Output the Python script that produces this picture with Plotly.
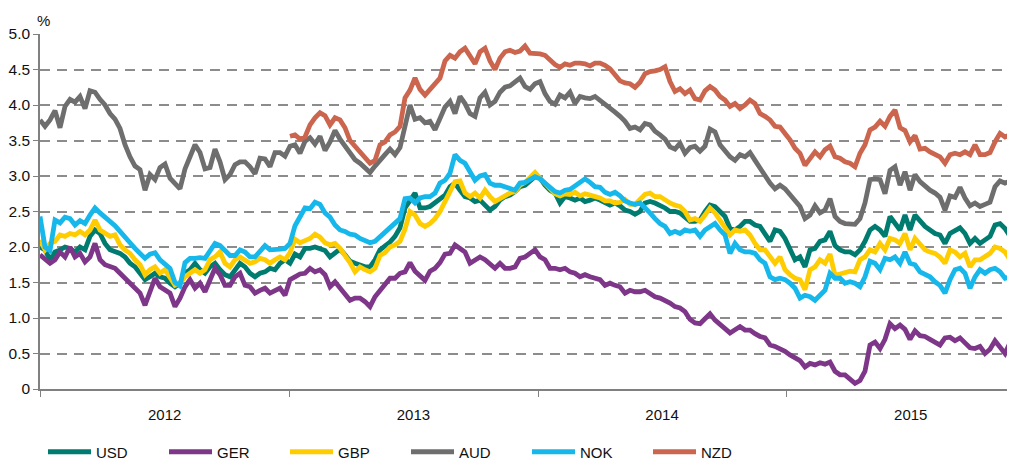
import pandas as pd
import plotly.graph_objects as go

# weekly-ish sampling dates spanning the chart (Jan 2012 -> early Dec 2015)
dates = pd.date_range("2012-01-01", "2015-12-02", periods=196)

usd = [2.00,1.96,1.82,1.93,1.96,2.00,1.98,1.93,2.00,1.96,2.15,2.24,2.19,2.05,1.96,1.93,1.91,1.86,1.77,1.72,1.63,1.54,1.58,1.63,1.58,1.56,1.49,1.44,1.49,1.63,1.68,1.77,1.68,1.63,1.72,1.77,1.68,1.61,1.58,1.68,1.77,1.72,
       1.63,1.58,1.63,1.65,1.70,1.68,1.77,1.82,1.77,1.90,1.86,1.98,1.98,2.00,1.98,1.95,1.86,1.91,1.97,1.89,1.80,1.77,1.74,1.72,1.72,1.82,1.96,2.01,2.07,2.15,2.27,2.55,2.66,2.76,2.55,2.55,2.57,2.62,2.69,2.73,
       2.85,2.90,2.80,2.71,2.69,2.64,2.66,2.59,2.52,2.57,2.66,2.71,2.73,2.78,2.85,2.87,2.92,2.99,2.97,2.87,2.80,2.76,2.62,2.71,2.69,2.66,2.69,2.64,2.66,2.69,2.66,2.62,2.59,2.62,2.58,2.52,2.50,2.46,2.50,2.62,
       2.64,2.62,2.59,2.55,2.50,2.50,2.48,2.43,2.36,2.36,2.38,2.50,2.59,2.57,2.50,2.43,2.26,2.24,2.29,2.36,2.36,2.31,2.29,2.19,2.08,2.24,2.22,2.12,1.96,1.82,1.86,1.72,1.96,1.98,2.08,2.10,2.22,2.02,1.96,1.93,
       1.93,1.89,1.96,2.08,2.24,2.29,2.24,2.15,2.43,2.33,2.24,2.45,2.24,2.45,2.36,2.29,2.24,2.19,2.17,2.05,2.19,2.24,2.27,2.19,2.05,2.12,2.05,2.10,2.15,2.31,2.33,2.26,2.15,2.33]

ger = [1.89,1.84,1.77,1.82,1.93,1.86,2.00,1.86,1.91,1.79,1.86,2.05,1.82,1.75,1.72,1.70,1.63,1.56,1.51,1.42,1.35,1.18,1.37,1.56,1.44,1.39,1.35,1.16,1.28,1.44,1.54,1.42,1.49,1.37,1.54,1.70,1.61,1.46,1.46,1.58,1.63,1.46,
       1.44,1.35,1.39,1.42,1.35,1.39,1.42,1.32,1.54,1.58,1.62,1.63,1.70,1.65,1.68,1.61,1.44,1.51,1.42,1.35,1.25,1.28,1.28,1.23,1.16,1.30,1.39,1.49,1.56,1.56,1.63,1.65,1.78,1.66,1.60,1.53,1.66,1.70,1.78,1.90,
       1.91,2.03,1.98,1.93,1.77,1.82,1.86,1.82,1.75,1.70,1.77,1.70,1.70,1.72,1.84,1.86,1.91,1.96,1.86,1.82,1.70,1.70,1.68,1.70,1.65,1.63,1.58,1.61,1.58,1.56,1.54,1.46,1.49,1.46,1.44,1.35,1.39,1.37,1.37,1.39,
       1.35,1.30,1.28,1.25,1.21,1.16,1.14,1.09,0.98,0.93,0.92,0.99,1.06,0.97,0.92,0.85,0.79,0.84,0.88,0.83,0.83,0.78,0.74,0.72,0.62,0.60,0.57,0.53,0.48,0.43,0.40,0.31,0.36,0.34,0.37,0.35,0.38,0.25,0.20,0.20,
       0.15,0.08,0.12,0.25,0.62,0.66,0.57,0.70,0.92,0.85,0.90,0.84,0.70,0.82,0.75,0.74,0.70,0.66,0.62,0.72,0.73,0.68,0.72,0.65,0.58,0.57,0.60,0.50,0.56,0.68,0.58,0.50,0.65,0.60]

gbp = [2.10,1.96,2.05,2.08,2.17,2.15,2.19,2.17,2.22,2.17,2.24,2.38,2.24,2.19,2.15,2.17,2.03,1.96,1.91,1.82,1.75,1.61,1.68,1.72,1.63,1.68,1.58,1.46,1.49,1.58,1.63,1.68,1.63,1.68,1.82,1.86,1.93,1.77,1.72,1.82,1.86,1.82,
       1.77,1.79,1.84,1.82,1.77,1.82,1.86,1.82,1.92,2.11,2.06,2.09,2.12,2.18,2.14,2.06,2.03,2.05,1.98,1.88,1.78,1.65,1.72,1.68,1.65,1.70,1.88,1.92,2.00,2.03,2.08,2.25,2.50,2.45,2.33,2.29,2.33,2.40,2.50,2.64,
       2.80,2.92,2.93,2.76,2.71,2.76,2.69,2.80,2.71,2.64,2.68,2.73,2.76,2.78,2.87,2.91,2.98,3.05,2.97,2.90,2.83,2.75,2.72,2.75,2.74,2.77,2.72,2.75,2.73,2.71,2.69,2.65,2.65,2.62,2.63,2.67,2.60,2.60,2.68,2.74,
       2.76,2.71,2.71,2.66,2.62,2.59,2.57,2.50,2.38,2.40,2.36,2.45,2.55,2.48,2.38,2.29,2.17,2.24,2.22,2.24,2.17,2.05,1.96,1.96,1.86,1.77,1.86,1.68,1.61,1.56,1.54,1.40,1.68,1.72,1.82,1.77,1.90,1.60,1.62,1.64,
       1.66,1.65,1.82,1.86,1.96,1.93,2.05,1.96,2.12,2.10,2.05,2.19,1.96,2.12,2.03,1.96,1.93,1.91,1.86,1.77,1.96,1.93,1.86,1.91,1.72,1.82,1.82,1.86,1.91,2.00,1.98,1.93,1.82,1.90]

aud = [3.79,3.70,3.79,3.92,3.68,3.98,4.08,4.04,4.12,3.95,4.20,4.18,4.08,4.00,3.88,3.80,3.67,3.44,3.27,3.14,3.09,2.80,3.02,2.95,3.12,3.17,2.97,2.90,2.82,3.10,3.26,3.44,3.33,3.10,3.12,3.38,3.20,2.95,3.02,3.16,3.20,3.20,
       3.13,3.03,3.25,3.24,3.13,3.33,3.33,3.28,3.42,3.44,3.32,3.49,3.54,3.45,3.56,3.36,3.48,3.64,3.52,3.43,3.33,3.23,3.18,3.11,3.05,3.14,3.23,3.30,3.38,3.30,3.40,3.70,4.00,3.80,3.82,3.75,3.77,3.65,3.82,3.97,
       4.05,3.88,4.12,4.02,3.88,3.84,4.10,4.18,4.00,4.05,4.18,4.25,4.27,4.33,4.38,4.26,4.22,4.30,4.33,4.16,4.05,4.01,4.14,4.10,4.18,4.02,4.12,4.10,4.09,4.12,4.07,4.00,3.95,3.90,3.84,3.77,3.67,3.69,3.65,3.74,
       3.72,3.63,3.58,3.52,3.41,3.38,3.46,3.32,3.40,3.42,3.35,3.42,3.66,3.62,3.44,3.35,3.27,3.22,3.30,3.27,3.33,3.22,3.11,3.03,2.90,2.82,2.87,2.82,2.73,2.64,2.57,2.40,2.45,2.58,2.48,2.52,2.68,2.43,2.36,2.33,
       2.33,2.32,2.40,2.62,2.95,2.96,2.95,2.75,3.08,3.13,2.87,3.06,2.80,3.02,2.92,2.85,2.80,2.76,2.70,2.52,2.72,2.70,2.84,2.69,2.58,2.62,2.57,2.60,2.63,2.85,2.93,2.90,2.93,2.82]

nok = [2.43,2.00,1.95,2.38,2.34,2.42,2.40,2.31,2.37,2.33,2.45,2.55,2.48,2.42,2.38,2.30,2.22,2.15,2.06,1.98,1.92,1.84,1.90,1.92,1.82,1.76,1.70,1.50,1.45,1.78,1.84,1.84,1.85,1.84,1.95,2.05,2.02,1.94,1.88,1.88,1.96,1.93,
       1.86,1.86,1.93,2.02,1.96,1.96,1.97,1.98,2.05,2.30,2.44,2.55,2.54,2.63,2.60,2.48,2.42,2.31,2.24,2.22,2.18,2.17,2.12,2.09,2.06,2.08,2.14,2.21,2.28,2.34,2.40,2.68,2.69,2.62,2.69,2.71,2.71,2.76,2.90,2.94,
       3.04,3.30,3.22,3.18,3.05,2.94,3.00,3.02,2.90,2.87,2.87,2.85,2.82,2.80,2.90,2.91,2.95,2.99,2.96,2.90,2.84,2.78,2.76,2.80,2.81,2.86,2.93,2.96,2.91,2.85,2.84,2.77,2.74,2.77,2.72,2.65,2.62,2.60,2.62,2.56,
       2.48,2.40,2.33,2.29,2.19,2.22,2.19,2.24,2.22,2.24,2.15,2.24,2.29,2.33,2.24,2.17,1.91,2.05,1.96,1.93,1.93,1.91,1.82,1.77,1.58,1.54,1.56,1.54,1.49,1.42,1.28,1.32,1.30,1.25,1.32,1.39,1.63,1.56,1.56,1.49,
       1.51,1.49,1.44,1.58,1.80,1.77,1.68,1.84,1.82,1.86,1.77,1.93,1.77,1.75,1.65,1.61,1.58,1.51,1.46,1.35,1.54,1.68,1.70,1.63,1.42,1.58,1.68,1.63,1.68,1.70,1.65,1.56,1.58,1.62]

# NZD series starts at the beginning of 2013
nzd = [3.56,3.58,3.52,3.55,3.72,3.82,3.89,3.85,3.72,3.82,3.79,3.68,3.50,3.42,3.34,3.25,3.18,3.22,3.44,3.48,3.58,3.62,3.70,4.10,4.21,4.38,4.22,4.14,4.22,4.28,4.38,4.62,
       4.70,4.66,4.75,4.80,4.68,4.58,4.75,4.80,4.62,4.50,4.66,4.75,4.77,4.74,4.76,4.83,4.73,4.73,4.72,4.70,4.63,4.57,4.53,4.58,4.56,4.59,4.59,4.58,4.55,4.59,4.59,4.56,4.51,4.43,4.34,4.31,4.30,4.25,4.32,4.44,
       4.47,4.48,4.50,4.54,4.33,4.19,4.23,4.16,4.21,4.09,4.07,4.20,4.26,4.21,4.12,4.07,3.98,4.02,3.95,4.00,4.07,4.02,3.88,3.84,3.79,3.70,3.69,3.60,3.51,3.39,3.32,3.15,3.25,3.34,3.27,3.37,3.42,3.27,3.25,3.20,
       3.18,3.13,3.32,3.44,3.65,3.69,3.77,3.70,3.84,3.93,3.68,3.64,3.48,3.57,3.38,3.39,3.34,3.30,3.27,3.18,3.30,3.32,3.30,3.34,3.30,3.44,3.30,3.30,3.33,3.48,3.60,3.55,3.58,3.51]

names = ["USD", "GER", "GBP", "AUD", "NOK", "NZD"]
colors = ["#007B6F", "#7E3689", "#FFCC00", "#6E6E6E", "#16B7EA", "#CB654D"]
series = [usd, ger, gbp, aud, nok, nzd]

year_mid = ["2012-07-02", "2013-07-02", "2014-07-02", "2015-07-02"]
year_labels = ["2012", "2013", "2014", "2015"]
year_starts = ["2012-01-01", "2013-01-01", "2014-01-01", "2015-01-01"]
y_ticks = [0, 0.5, 1.0, 1.5, 2.0, 2.5, 3.0, 3.5, 4.0, 4.5, 5.0]
y_labels = ["0", "0.5", "1.0", "1.5", "2.0", "2.5", "3.0", "3.5", "4.0", "4.5", "5.0"]

FONT = "Liberation Sans, Arial, sans-serif"
TXT = "#111111"
AX = "#808080"

# the page body has an 8px default margin, so the figure is sized to fit the window
W, H = 1007, 457

fig = go.Figure()
for name, col, vals in zip(names, colors, series):
    xs = dates[len(dates) - len(vals):]
    fig.add_trace(go.Scatter(x=xs, y=vals, name=name, mode="lines",
                             line=dict(color=col, width=4.8)))

fig.update_layout(
    width=W, height=H,
    margin=dict(l=32, r=0, t=26, b=76, autoexpand=False),
    paper_bgcolor="white", plot_bgcolor="white",
    font=dict(family=FONT, size=15, color=TXT),
    showlegend=True,
    legend=dict(orientation="h", xref="container", yref="container",
                x=35 / W, y=1 - 444 / H, xanchor="left", yanchor="middle",
                entrywidth=63, entrywidthmode="pixels", itemwidth=43,
                font=dict(family=FONT, size=15, color=TXT),
                bgcolor="rgba(0,0,0,0)"),
    annotations=[dict(text="%", xref="paper", yref="paper", x=0, y=1,
                      xanchor="left", yanchor="bottom", yshift=3, xshift=-5,
                      showarrow=False,
                      font=dict(family=FONT, size=15, color=TXT))],
)

fig.update_xaxes(
    type="date", range=[dates[0], dates[-1]],
    tickmode="array", tickvals=year_mid, ticktext=year_labels,
    ticks="", ticklabelstandoff=11,
    showgrid=False, zeroline=False,
    showline=True, linecolor=AX, linewidth=1.5,
    minor=dict(tickmode="array", tickvals=year_starts, ticks="outside",
               ticklen=6, tickcolor=AX, tickwidth=1, showgrid=False),
    tickfont=dict(family=FONT, size=15, color=TXT),
)

fig.update_yaxes(
    range=[0, 5.0], tickmode="array", tickvals=y_ticks, ticktext=y_labels,
    ticks="outside", ticklen=5, tickcolor=AX, tickwidth=1,
    showline=True, linecolor=AX, linewidth=1.5,
    showgrid=True, gridcolor="#8c8c8c", gridwidth=1.5, griddash="10px,7px",
    zeroline=False,
    tickfont=dict(family=FONT, size=15.5, color=TXT),
)

fig.write_html("out.html")
